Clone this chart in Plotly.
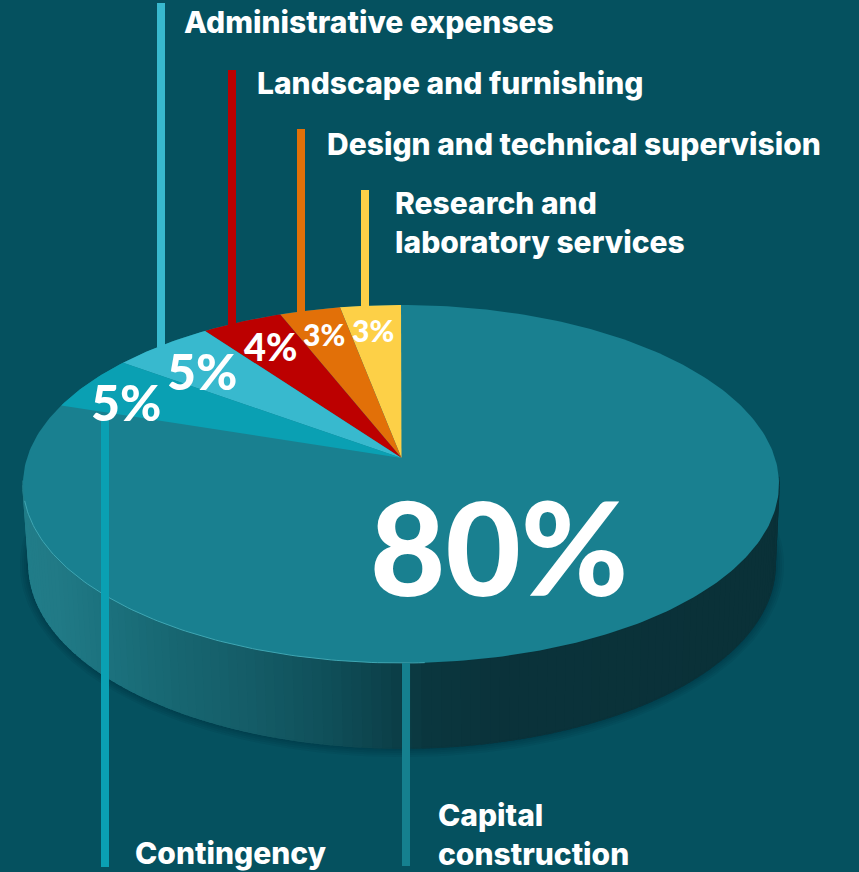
import numpy as np
import plotly.graph_objects as go

# ---- data ----
categories = ["Research and laboratory services", "Design and technical supervision",
              "Landscape and furnishing", "Administrative expenses", "Contingency",
              "Capital construction"]
shares = [3, 3, 4, 5, 5, 80]
slice_colors = ["#FDD047", "#E27008", "#BC0000", "#38B9CE", "#0AA0B3", "#198090"]
pct_labels = ["3%", "3%", "4%", "5%", "5%", "80%"]

# ---- geometry of the drawn disc (page pixels) ----
W, H = 859, 872
APEX = (401.5, 458)
LID = dict(cx=401, cy=484, rx=378, ry=179)
BASE = dict(cx=402, cy=565, rx=373, ry=183)
K = 0.86  # foreshortening of angles by the tilted view


def ell(e, t):
    t = np.asarray(t, dtype=float)
    return e["cx"] - e["rx"] * np.sin(t), e["cy"] - e["ry"] * np.cos(t)


def view_angle(share_cum):
    phi = np.asarray(share_cum, dtype=float) / 100 * 2 * np.pi
    return 2 * np.arctan2(K * np.sin(phi / 2), np.cos(phi / 2))


def lerp_color(x, stops):
    xs = [s[0] for s in stops]
    rgb = [np.interp(x, xs, [int(s[1][i:i + 2], 16) for s in stops]) for i in (1, 3, 5)]
    return "rgb(%d,%d,%d)" % tuple(rgb)


side_stops = [(23, "#217E8A"), (60, "#217A86"), (100, "#1D7480"), (170, "#186873"),
              (250, "#155D68"), (330, "#10505A"), (400, "#0C3F48"), (430, "#0B373F"),
              (500, "#0A333B"), (779, "#0A3138")]

fig = go.Figure()


def add_poly(x, y, color, name=None, line=0.0, hover=False):
    fig.add_trace(go.Scatter(x=x, y=y, mode="lines", fill="toself", fillcolor=color,
                             line=dict(color=color, width=line), name=name or "",
                             hoverinfo="name" if hover else "skip", showlegend=False))


# soft shadow round the base
for grow in (9, 7, 5, 3, 1.5):
    e = dict(BASE, rx=BASE["rx"] + grow, ry=BASE["ry"] + grow)
    tt = np.linspace(0, 2 * np.pi, 240)
    ex, ey = ell(e, tt)
    add_poly(ex, ey, "rgba(0,35,45,0.07)")

# side wall, as narrow strips shaded from left to right
edges = np.linspace(np.pi / 2 - 0.02, 3 * np.pi / 2 + 0.02, 121)
for a, b in zip(edges[:-1], edges[1:]):
    ts = np.linspace(a, b + 0.02, 3)
    x0, y0 = ell(LID, ts)
    x1, y1 = ell(BASE, ts[::-1])
    add_poly(np.r_[x0, x1], np.r_[y0, y1], lerp_color((x0[1] + x1[1]) / 2, side_stops), line=1.5)

# lid: the largest share fills the disc, the others sit on top of it
cum = np.cumsum(shares)
tt = np.linspace(0, 2 * np.pi, 360)
ex, ey = ell(LID, tt)
add_poly(ex, ey, slice_colors[5], categories[5], hover=True)

# pale rim on the lower left of the lid
tr = np.linspace(np.pi * 0.53, np.pi * 1.02, 100)
rx_, ry_ = ell(LID, tr)
fig.add_trace(go.Scatter(x=rx_, y=ry_, mode="lines", line=dict(color="#3FA6B3", width=1),
                         hoverinfo="skip", showlegend=False))

start = 0
for share_end, col, name in zip(cum[:5], slice_colors[:5], categories[:5]):
    ts = view_angle(np.linspace(start, share_end, 30))
    sx, sy = ell(LID, ts)
    add_poly(np.r_[APEX[0], sx], np.r_[APEX[1], sy], col, name, hover=True)
    start = share_end

# ---- leader lines ----
def rim_y(x):
    return LID["cy"] - LID["ry"] * np.sqrt(1 - ((x - LID["cx"]) / LID["rx"]) ** 2)


def rim_low(x):
    return LID["cy"] + LID["ry"] * np.sqrt(1 - ((x - LID["cx"]) / LID["rx"]) ** 2)


leader_x = [365, 301, 232, 161, 105, 406]
leader_top = [190, 129, 70, 3, 415, None]
leader_bottom = [None, None, None, None, 867, 866]
leader_colors = ["#FDD047", "#E27008", "#BC0000", "#38B9CE", "#0AA0B3", "#15808F"]
shapes = []
for x, t, b, c in zip(leader_x, leader_top, leader_bottom, leader_colors):
    y0 = t if t is not None else rim_low(x)
    y1 = b if b is not None else rim_y(x) + 2
    shapes.append(dict(type="rect", xref="x", yref="y", x0=x - 4, x1=x + 4, y0=y0, y1=y1,
                       fillcolor=c, line=dict(width=0), layer="above"))

# ---- text ----
FONT = "Inter"
label_pos = [
    ("Research and<br>laboratory services", 393, 222),
    ("Design and technical supervision", 325, 144),
    ("Landscape and furnishing", 255, 83),
    ("Administrative expenses", 182, 22),
    ("Contingency", 133, 853),
    ("Capital<br>construction", 436, 834),
]
annotations = []
for txt, x, y in label_pos:
    annotations.append(dict(text=txt, x=x, y=y, xref="x", yref="y", xanchor="left", yanchor="middle",
                            align="left", showarrow=False,
                            font=dict(family=FONT, size=30, color="white", weight=800)))
pct_pos = [(373, 330, 30), (324, 334, 30), (270, 346, 38), (202, 371, 50), (126, 402, 50), (499, 546, 130)]
for txt, (x, y, s) in zip(pct_labels, pct_pos):
    annotations.append(dict(text=txt, x=x, y=y, xref="x", yref="y", xanchor="center", yanchor="middle",
                            showarrow=False,
                            font=dict(family="Lato", size=s, color="white", weight=900)))

fig.update_layout(
    width=W, height=H, margin=dict(l=0, r=0, t=0, b=0),
    paper_bgcolor="#05515F", plot_bgcolor="#05515F",
    xaxis=dict(range=[0, W], visible=False, fixedrange=True),
    yaxis=dict(range=[H, 0], visible=False, fixedrange=True),
    shapes=shapes, annotations=annotations, showlegend=False,
)
fig.write_html("out.html", config=dict(displayModeBar=False),
               post_script="document.body.style.margin='0';document.body.style.overflow='hidden';")
